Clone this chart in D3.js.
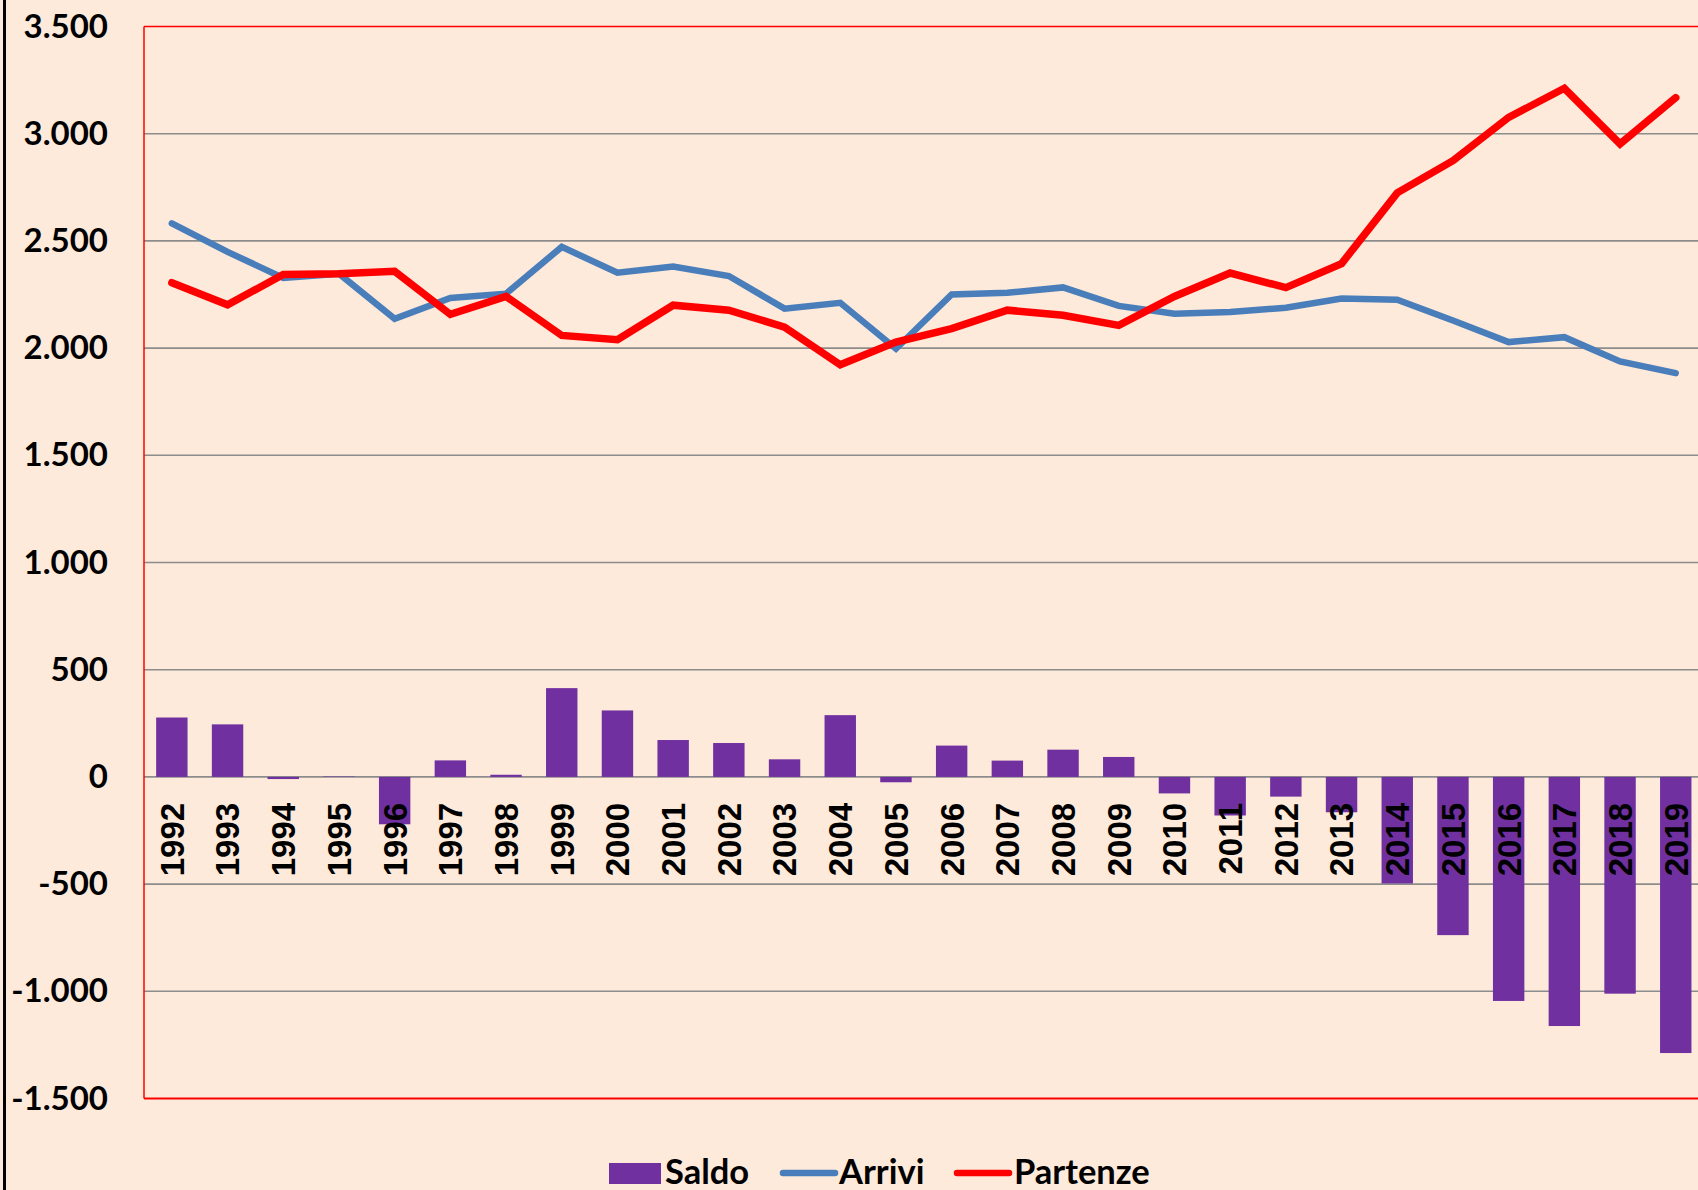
<!DOCTYPE html>
<html>
<head>
<meta charset="utf-8">
<script src="https://cdn.jsdelivr.net/npm/d3@7"></script>
<style>
  html, body { margin: 0; padding: 0; background: #FDEADA; overflow: hidden; }
  svg { display: block; }
</style>
</head>
<body>
<svg id="chart" width="1698" height="1190"></svg>
<script>
const years = ["1992","1993","1994","1995","1996","1997","1998","1999","2000","2001","2002","2003","2004","2005","2006","2007","2008","2009","2010","2011","2012","2013","2014","2015","2016","2017","2018","2019"];
const saldo = [277,245,-10,2,-221,77,10,414,310,172,158,82,288,-25,146,76,127,93,-77,-180,-92,-165,-497,-738,-1045,-1162,-1011,-1288];
const arrivi = [2582,2449,2327,2347,2137,2234,2254,2472,2352,2380,2336,2184,2211,1997,2250,2258,2283,2197,2160,2168,2188,2231,2226,2129,2028,2051,1938,1883];
const partenze = [2305,2202,2343,2347,2358,2157,2241,2059,2039,2200,2177,2098,1922,2028,2091,2177,2153,2106,2241,2350,2282,2394,2724,2874,3076,3212,2952,3168];
const yTicks = [-1500,-1000,-500,0,500,1000,1500,2000,2500,3000,3500];
const seriesNames = ["Saldo","Arrivi","Partenze"];

const W = 1698, H = 1190;
const plot = { left: 144, top: 26.5, bottom: 1098.5, right: 144 + 28 * 55.7 };
const colors = { bg: "#FDEADA", saldo: "#7030A0", arrivi: "#4A7EBB", partenze: "#FF0000", grid: "#8C8C8C", border: "#FF0000" };

const itLocale = d3.formatLocale({ decimal: ",", thousands: ".", grouping: [3], currency: ["", ""], minus: "-" });
const fmt = itLocale.format(",d");

const svg = d3.select("#chart");
svg.append("rect").attr("width", W).attr("height", H).attr("fill", colors.bg);

const x = d3.scaleBand().domain(years).range([plot.left, plot.right]).paddingInner(0.436).paddingOuter(0.218);
const y = d3.scaleLinear().domain([-1500, 3500]).range([plot.bottom, plot.top]);
const xc = d => x(d) + x.bandwidth() / 2;

// gridlines
svg.append("g").selectAll("line").data(yTicks.filter(t => t > -1500 && t < 3500)).join("line")
  .attr("x1", plot.left).attr("x2", plot.right)
  .attr("y1", d => y(d)).attr("y2", d => y(d))
  .attr("stroke", colors.grid).attr("stroke-width", 1.6);

// bars
svg.append("g").selectAll("rect").data(years).join("rect")
  .attr("x", d => x(d))
  .attr("width", x.bandwidth())
  .attr("y", (d, i) => Math.min(y(0), y(saldo[i])))
  .attr("height", (d, i) => Math.abs(y(saldo[i]) - y(0)))
  .attr("fill", colors.saldo);

// y axis
const yAxis = svg.append("g").attr("transform", `translate(${plot.left},0)`)
  .call(d3.axisLeft(y).tickValues(yTicks).tickFormat(fmt).tickSize(0).tickPadding(36));
yAxis.select(".domain").remove();
yAxis.selectAll("text")
  .attr("font-family", "Lato, 'Open Sans', sans-serif")
  .attr("font-weight", "bold").attr("font-size", 33).attr("fill", "#000");

// x axis labels (rotated, just below zero)
const xAxis = svg.append("g").attr("transform", `translate(0,${y(0)})`)
  .call(d3.axisBottom(x).tickSize(0));
xAxis.select(".domain").remove();
xAxis.selectAll("text")
  .attr("transform", "rotate(-90)")
  .attr("text-anchor", "end")
  .attr("x", -26).attr("y", 0).attr("dy", "0.36em")
  .attr("font-family", "'Liberation Sans', Arial, sans-serif")
  .attr("font-weight", "bold").attr("font-size", 33).attr("fill", "#000");

// lines
const lineGen = vals => d3.line().x((d, i) => xc(years[i])).y(d => y(d))(vals);
svg.append("path").attr("d", lineGen(arrivi))
  .attr("fill", "none").attr("stroke", colors.arrivi).attr("stroke-width", 6.5)
  .attr("stroke-linejoin", "miter").attr("stroke-linecap", "round");
svg.append("path").attr("d", lineGen(partenze))
  .attr("fill", "none").attr("stroke", colors.partenze).attr("stroke-width", 7.5)
  .attr("stroke-linejoin", "miter").attr("stroke-linecap", "round");

// plot border
const b = svg.append("g").attr("stroke", colors.border).attr("fill", "none");
b.append("line").attr("x1", plot.left).attr("x2", plot.right).attr("y1", plot.top).attr("y2", plot.top).attr("stroke-width", 1.5);
b.append("line").attr("x1", plot.left).attr("x2", plot.left).attr("y1", plot.top).attr("y2", plot.bottom).attr("stroke-width", 1.5);
b.append("line").attr("x1", plot.left).attr("x2", plot.right).attr("y1", plot.bottom).attr("y2", plot.bottom).attr("stroke-width", 2);

// left black frame line
svg.append("line").attr("x1", 4.5).attr("x2", 4.5).attr("y1", 0).attr("y2", H)
  .attr("stroke", "#000").attr("stroke-width", 3);

// legend
const lg = svg.append("g").attr("font-family", "Lato, 'Open Sans', sans-serif")
  .attr("font-weight", "bold").attr("font-size", 34.5).attr("fill", "#000");
const legendY = 1173;
lg.append("rect").attr("x", 609).attr("y", 1163).attr("width", 52).attr("height", 21).attr("fill", colors.saldo);
lg.append("text").attr("x", 665).attr("y", 1184).text(seriesNames[0]);
lg.append("line").attr("x1", 783).attr("x2", 835).attr("y1", legendY).attr("y2", legendY)
  .attr("stroke", colors.arrivi).attr("stroke-width", 6.5).attr("stroke-linecap", "round");
lg.append("text").attr("x", 839).attr("y", 1184).text(seriesNames[1]);
lg.append("line").attr("x1", 957).attr("x2", 1009).attr("y1", legendY).attr("y2", legendY)
  .attr("stroke", colors.partenze).attr("stroke-width", 6.5).attr("stroke-linecap", "round");
lg.append("text").attr("x", 1014).attr("y", 1184).text(seriesNames[2]);
</script>
</body>
</html>
